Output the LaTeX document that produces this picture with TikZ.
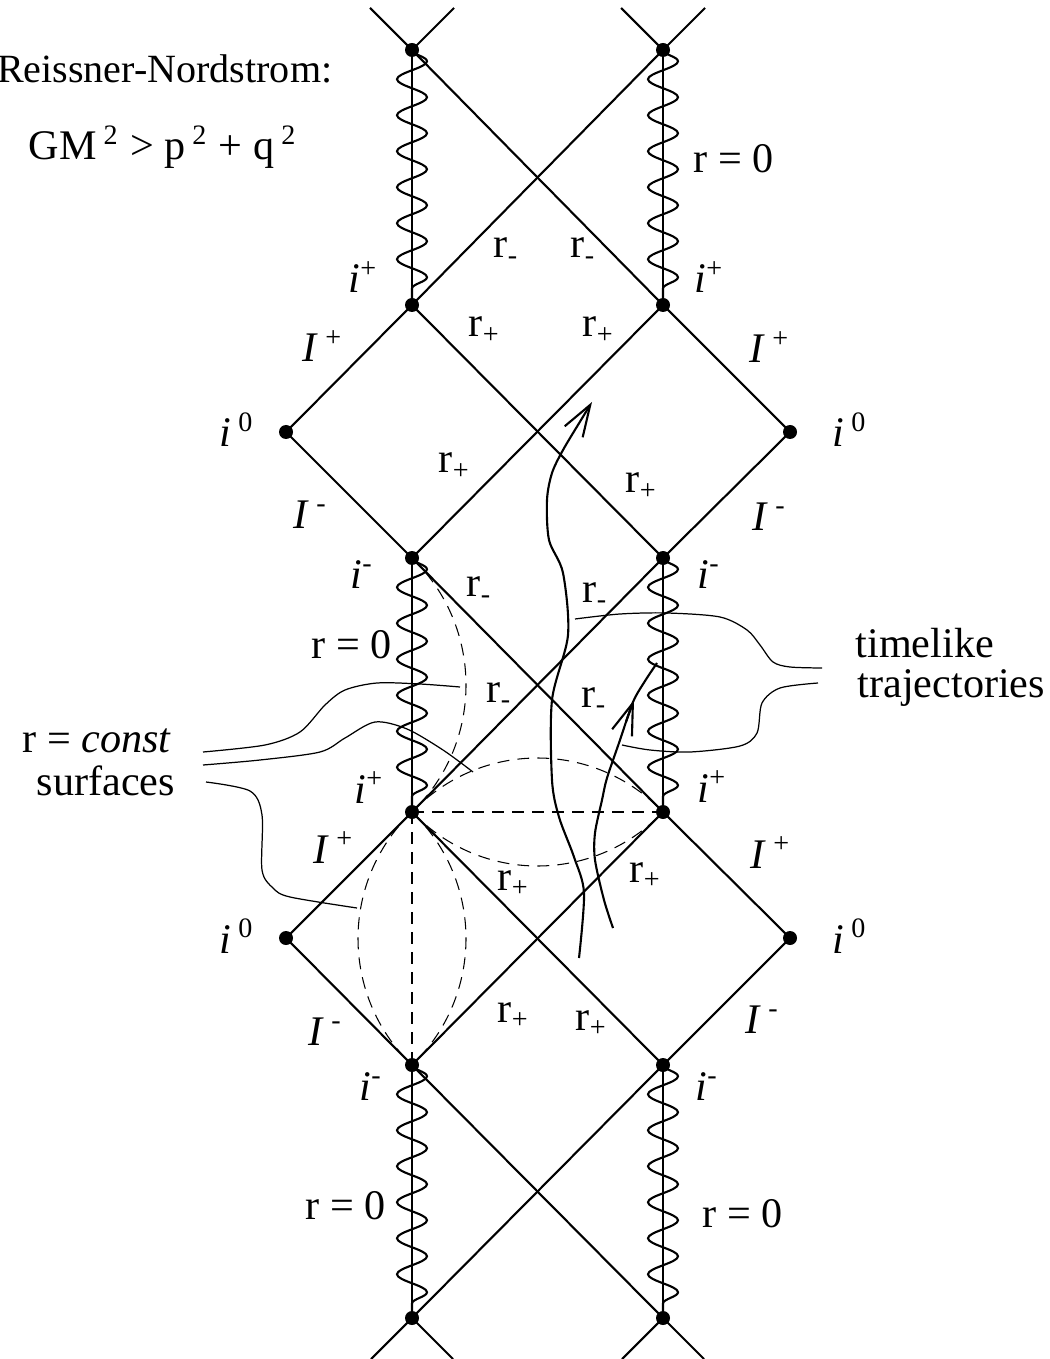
\documentclass[tikz,border=0pt]{standalone}
\usepackage{fontspec}
\setmainfont{Liberation Serif}
\usetikzlibrary{decorations.pathmorphing,arrows.meta}

\begin{document}
\begin{tikzpicture}[x=0.1mm,y=-0.1mm]

    \tikzset{
      dot/.style={circle, fill=black, inner sep=0pt, minimum size=1.4mm},
      edge/.style={line width=0.6pt},
      sing/.style={line width=0.6pt, decorate,
        decoration={snake, amplitude=1.5mm, segment length=3.6mm}},
      rconst/.style={line width=0.3pt, dash pattern=on 3.4pt off 2.3pt},
      leader/.style={line width=0.35pt},
      traj/.style={line width=0.6pt},
      lbl/.style={inner sep=0pt, font=\fontsize{12}{14}\selectfont},
    }
    \useasboundingbox (0,0) rectangle (1049,1359);

    % corners of the patches
    \coordinate (tl) at (412,50);    \coordinate (tr) at (663,50);
    \coordinate (al) at (412,305);   \coordinate (ar) at (663,305);
    \coordinate (a0l) at (286,432);  \coordinate (a0r) at (790,432);
    \coordinate (bl) at (412,558);   \coordinate (br) at (663,558);
    \coordinate (cl) at (412,812);   \coordinate (cr) at (663,812);
    \coordinate (c0l) at (286,938);  \coordinate (c0r) at (790,938);
    \coordinate (dl) at (412,1065);  \coordinate (dr) at (663,1065);
    \coordinate (el) at (412,1318);  \coordinate (er) at (663,1318);

    \coordinate (stA) at (370,8);    \coordinate (stB) at (454,8);
    \coordinate (stC) at (621,8);    \coordinate (stD) at (705,8);
    \coordinate (stE) at (371,1359); \coordinate (stF) at (453,1359);
    \coordinate (stG) at (622,1359); \coordinate (stH) at (704,1359);

    % null lines
    \draw[edge] (stA) -- (tl) -- (stB);
    \draw[edge] (stC) -- (tr) -- (stD);
    \draw[edge] (tl) -- (ar);
    \draw[edge] (tr) -- (al);
    \draw[edge] (al) -- (a0l) -- (bl) -- (cr) -- (c0r) -- (dr) -- (el);
    \draw[edge] (ar) -- (a0r) -- (br) -- (cl) -- (c0l) -- (dl) -- (er);
    \draw[edge] (al) -- (br);
    \draw[edge] (ar) -- (bl);
    \draw[edge] (cl) -- (dr);
    \draw[edge] (cr) -- (dl);
    \draw[edge] (stE) -- (el) -- (stF);
    \draw[edge] (stG) -- (er) -- (stH);

    % singularities r = 0
    \foreach \a/\b in {tl/al, tr/ar, bl/cl, br/cr, dl/el, dr/er} {
      \draw[edge] (\a) -- (\b);
      \draw[sing] (\a) -- (\b);
    }

    % r = const surfaces
    \draw[rconst] (bl) .. controls (484,627) and (484,743) .. (cl);
    \draw[rconst] (cl) -- (cr);
    \draw[rconst] (cl) .. controls (481,740) and (594,740) .. (cr);
    \draw[rconst] (cl) .. controls (481,884) and (594,884) .. (cr);
    \draw[rconst] (cl) -- (dl);
    \draw[rconst] (cl) .. controls (340,881) and (340,996) .. (dl);
    \draw[rconst] (cl) .. controls (484,881) and (484,996) .. (dl);

    % timelike trajectories
    \draw[traj, -{Straight Barb[length=9pt,width=6pt]}] plot[smooth] coordinates {
      (579,958) (584,893) (574,857) (559,817) (552,780) (552,700) (568,635)
      (563,573) (549,540) (547,500) (552,473) (563,450) (581,420) (592,402)};
    \draw[traj] plot[smooth] coordinates {
      (613,928) (604,900) (595,860) (595,833) (602,800) (607,778) (620,740)
      (633,702) (645,681) (657,663)};
    \draw[traj, -{Straight Barb[length=9pt,width=6pt]}] (626,722) -- (634,700);

    % leaders
    \draw[leader] plot[smooth] coordinates {
      (203,752) (265,745) (300,732) (325,705) (345,690) (377,683) (420,684) (460,687)};
    \draw[leader] plot[smooth] coordinates {
      (203,765) (260,760) (320,752) (345,738) (375,722) (407,729) (443,750) (473,772)};
    \draw[leader] plot[smooth] coordinates {
      (206,782) (250,791) (262,815) (262,870) (273,888) (290,897) (357,908)};
    \draw[leader] plot[smooth] coordinates {
      (822,668) (790,667) (773,662) (760,645) (747,630) (720,617) (667,613) (620,614) (575,619)};
    \draw[leader] plot[smooth] coordinates {
      (818,683) (780,688) (762,703) (757,733) (740,746) (690,752) (650,750) (622,745)};

    % dots
    \foreach \p in {tl,tr,al,ar,a0l,a0r,bl,br,cl,cr,c0l,c0r,dl,dr,el,er}
      \node[dot] (d\p) at (\p) {};

    % labels
    \node[lbl, anchor=base east, font=\fontsize{11.4}{14}\selectfont] (rn) at (333,83)
      {Reissner-Nordstrom:};
    \node[lbl, anchor=base west] (cond) at (28,160)
      {GM\,\textsuperscript{2} > p\,\textsuperscript{2} + q\,\textsuperscript{2}};

    \node[lbl, anchor=base west] (rzA) at (693,173) {r = 0};
    \node[lbl, anchor=base west] (rzB) at (311,658) {r = 0};
    \node[lbl, anchor=base west] (rzC) at (305,1219) {r = 0};
    \node[lbl, anchor=base west] (rzD) at (702,1227) {r = 0};

    \node[lbl, anchor=base west] (ipA) at (348,293) {\textit{i}\textsuperscript{+}};
    \node[lbl, anchor=base west] (ipB) at (694,293) {\textit{i}\textsuperscript{+}};
    \node[lbl, anchor=base west] (ipC) at (354,803) {\textit{i}\textsuperscript{+}};
    \node[lbl, anchor=base west] (ipD) at (697,802) {\textit{i}\textsuperscript{+}};

    \node[lbl, anchor=base west] (imA) at (350,588) {\textit{i}\textsuperscript{-}};
    \node[lbl, anchor=base west] (imB) at (697,588) {\textit{i}\textsuperscript{-}};
    \node[lbl, anchor=base west] (imC) at (359,1100) {\textit{i}\textsuperscript{-}};
    \node[lbl, anchor=base west] (imD) at (695,1100) {\textit{i}\textsuperscript{-}};

    \node[lbl, anchor=base west] (izA) at (219,447) {\textit{i}\,\textsuperscript{0}};
    \node[lbl, anchor=base west] (izB) at (832,447) {\textit{i}\,\textsuperscript{0}};
    \node[lbl, anchor=base west] (izC) at (219,953) {\textit{i}\,\textsuperscript{0}};
    \node[lbl, anchor=base west] (izD) at (832,953) {\textit{i}\,\textsuperscript{0}};

    \node[lbl, anchor=base west] (scpA) at (302,362) {\textit{I}\,\textsuperscript{+}};
    \node[lbl, anchor=base west] (scpB) at (749,363) {\textit{I}\,\textsuperscript{+}};
    \node[lbl, anchor=base west] (scpC) at (313,863) {\textit{I}\,\textsuperscript{+}};
    \node[lbl, anchor=base west] (scpD) at (750,868) {\textit{I}\,\textsuperscript{+}};

    \node[lbl, anchor=base west] (scmA) at (293,528) {\textit{I}\,\textsuperscript{-}};
    \node[lbl, anchor=base west] (scmB) at (752,530) {\textit{I}\,\textsuperscript{-}};
    \node[lbl, anchor=base west] (scmC) at (308,1045) {\textit{I}\,\textsuperscript{-}};
    \node[lbl, anchor=base west] (scmD) at (745,1033) {\textit{I}\,\textsuperscript{-}};

    \node[lbl, anchor=base west] (rmA) at (493,258) {r\textsubscript{-}};
    \node[lbl, anchor=base west] (rmB) at (570,258) {r\textsubscript{-}};
    \node[lbl, anchor=base west] (rmC) at (466,597) {r\textsubscript{-}};
    \node[lbl, anchor=base west] (rmD) at (582,602) {r\textsubscript{-}};
    \node[lbl, anchor=base west] (rmE) at (486,702) {r\textsubscript{-}};
    \node[lbl, anchor=base west] (rmF) at (581,707) {r\textsubscript{-}};

    \node[lbl, anchor=base west] (rpA) at (468,337) {r\textsubscript{+}};
    \node[lbl, anchor=base west] (rpB) at (582,337) {r\textsubscript{+}};
    \node[lbl, anchor=base west] (rpC) at (438,473) {r\textsubscript{+}};
    \node[lbl, anchor=base west] (rpD) at (625,493) {r\textsubscript{+}};
    \node[lbl, anchor=base west] (rpE) at (497,890) {r\textsubscript{+}};
    \node[lbl, anchor=base west] (rpF) at (629,882) {r\textsubscript{+}};
    \node[lbl, anchor=base west] (rpG) at (497,1022) {r\textsubscript{+}};
    \node[lbl, anchor=base west] (rpH) at (575,1030) {r\textsubscript{+}};

    \node[lbl, anchor=base west] (tlA) at (855,657) {timelike};
    \node[lbl, anchor=base west] (tlB) at (857,697) {trajectories};
    \node[lbl, anchor=base west] (rcA) at (22,752) {r = \textit{const}};
    \node[lbl, anchor=base west] (rcB) at (36,795) {surfaces};

\end{tikzpicture}
\end{document}
